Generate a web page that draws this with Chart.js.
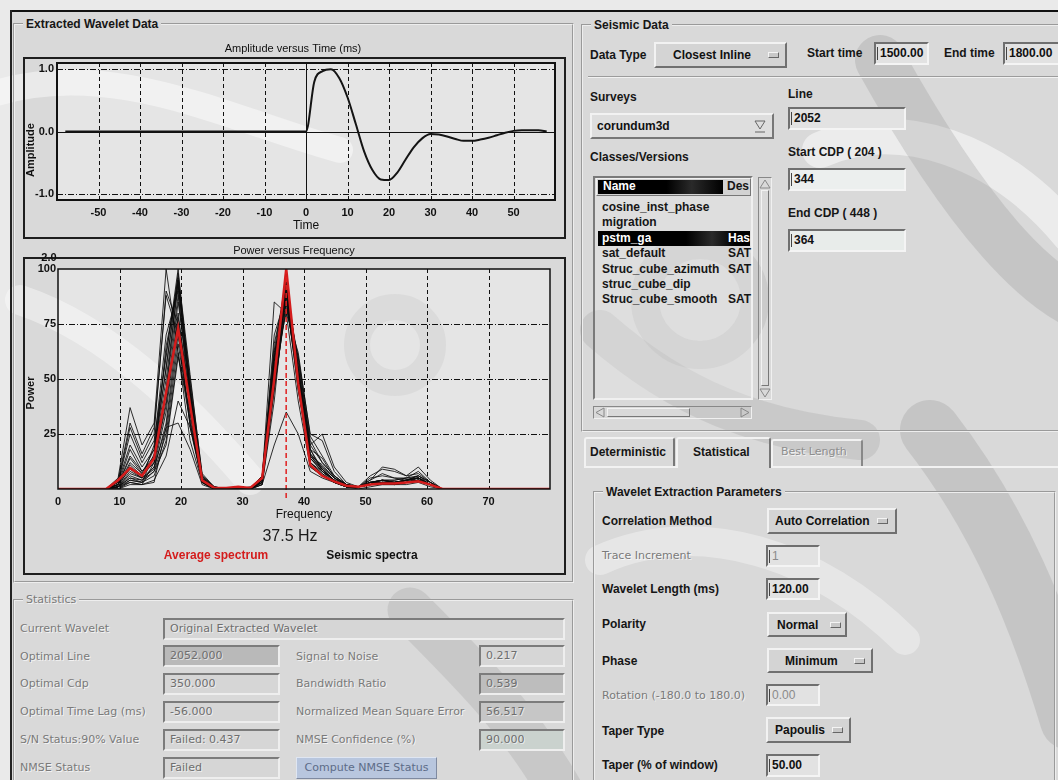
<!DOCTYPE html>
<html>
<head>
<meta charset="utf-8">
<title>Extracted Wavelet Data</title>
<script src="https://cdn.jsdelivr.net/npm/chart.js@4.4.1/dist/chart.umd.min.js"></script>
<style>
  html, body { margin: 0; padding: 0; }
  body {
    width: 1058px; height: 780px; overflow: hidden; position: relative;
    background: #d9d9d9;
    font-family: "Liberation Sans", Arial, sans-serif;
    color: #111;
  }
  #wm { position: absolute; left: 0; top: 0; z-index: 0; }
  .a { position: absolute; z-index: 1; }
  .lbl { position: absolute; z-index: 1; font: bold 12px "Liberation Sans", Arial, sans-serif; line-height: 14px; white-space: nowrap; color: #161616; }
  .dis { position: absolute; z-index: 1; font: 11px "DejaVu Sans", sans-serif; line-height: 14px; white-space: nowrap; color: #7a7a7a; text-shadow: 1px 1px 0 rgba(255,255,255,0.7); }
  .tf { position: absolute; z-index: 1; box-sizing: border-box; height: 23px; background: #e2e2e2; border: 2px solid; border-color: #6f6f6f #f4f4f4 #f4f4f4 #6f6f6f; font: bold 12px "Liberation Sans", Arial, sans-serif; line-height: 19px; padding-left: 4px; white-space: nowrap; overflow: hidden; }
  .tf::before { content: ''; position: absolute; left: 1px; top: 3px; width: 1px; height: 13px; background: #444; }
  .tf.off { color: #8a8a8a; font-weight: normal; }
  .mb { position: absolute; z-index: 1; box-sizing: border-box; background: #d4d4d4; border: 2px solid; border-color: #f2f2f2 #707070 #707070 #f2f2f2; font: bold 12px "Liberation Sans", Arial, sans-serif; white-space: nowrap; }
  .mb span { position: absolute; top: 50%; transform: translateY(-50%); }
  .mb i { position: absolute; top: 50%; margin-top: -3px; width: 11px; height: 6px; box-sizing: border-box; border: 1px solid; border-color: #f4f4f4 #666 #666 #f4f4f4; background: #c8c8c8; }
  fieldset { position: absolute; z-index: 1; margin: 0; padding: 0; box-sizing: border-box; border: 2px groove #eeeeee; }
  legend { font: bold 12px "Liberation Sans", Arial, sans-serif; padding: 0 3px; margin-left: 8px; line-height: 14px; color: #161616; }
  legend.off { font: 11px "DejaVu Sans", sans-serif; color: #7a7a7a; text-shadow: 1px 1px 0 rgba(255,255,255,0.7); }
  .sbox { position: absolute; z-index: 1; box-sizing: border-box; height: 22px; border: 2px solid; border-color: #7c7c7c #eeeeee #eeeeee #7c7c7c; background: #d6d6d6; font: 11px "DejaVu Sans", sans-serif; color: #6e6e6e; line-height: 18px; padding-left: 5px; white-space: nowrap; text-shadow: 1px 1px 0 rgba(255,255,255,0.6); }
  .item { position: absolute; z-index: 2; font: bold 12px "Liberation Sans", Arial, sans-serif; line-height: 15px; white-space: nowrap; color: #161616; }
  canvas { position: absolute; z-index: 1; }
</style>
</head>
<body>

<!-- faint watermark swirls behind the window -->
<svg id="wm" width="1058" height="780">
  <g fill="none" stroke-linecap="round">
    <path d="M -10 95 C 110 55 230 120 340 150" stroke="#ffffff" stroke-opacity="0.45" stroke-width="26"/>
    <path d="M 20 300 C 110 330 190 410 250 480" stroke="#ffffff" stroke-opacity="0.4" stroke-width="30"/>
    <path d="M 820 150 C 900 115 1000 150 1070 235" stroke="#ffffff" stroke-opacity="0.5" stroke-width="36"/>
    <path d="M 600 560 C 700 515 820 555 905 640" stroke="#ffffff" stroke-opacity="0.35" stroke-width="30"/>
    <path d="M 880 60 C 930 150 1000 260 1070 300" stroke="#8c8c8c" stroke-opacity="0.25" stroke-width="50"/>
    <path d="M 930 430 C 1000 520 1040 620 1070 720" stroke="#8c8c8c" stroke-opacity="0.25" stroke-width="60"/>
    <path d="M 410 610 C 470 670 520 720 560 790" stroke="#8c8c8c" stroke-opacity="0.22" stroke-width="45"/>
    <path d="M 600 330 C 680 400 760 430 860 440" stroke="#8c8c8c" stroke-opacity="0.2" stroke-width="40"/>
    <circle cx="395" cy="345" r="38" stroke="#8c8c8c" stroke-opacity="0.18" stroke-width="26"/>
    <circle cx="700" cy="300" r="55" stroke="#8c8c8c" stroke-opacity="0.18" stroke-width="28"/>
  </g>
</svg>

<!-- window edges -->
<div class="a" style="left:0;top:0;width:1058px;height:10px;background:rgba(255,255,255,0.45)"></div>
<div class="a" style="left:0;top:10px;width:10px;height:770px;background:rgba(255,255,255,0.45)"></div>
<div class="a" style="left:10px;top:10px;width:1048px;height:2px;background:#111"></div>
<div class="a" style="left:10px;top:10px;width:2px;height:770px;background:#222"></div>

<!-- ===== left panel ===== -->
<fieldset style="left:13px;top:17px;width:561px;height:566px"><legend>Extracted Wavelet Data</legend></fieldset>

<canvas id="waveChart" width="550" height="202" style="left:20px;top:40px;width:550px;height:202px"></canvas>
<canvas id="specChart" width="550" height="340" style="left:20px;top:240px;width:550px;height:340px"></canvas>

<fieldset style="left:13px;top:593px;width:561px;height:200px"><legend class="off">Statistics</legend></fieldset>

<div class="dis" style="left:20px;top:622px">Current Wavelet</div>
<div class="sbox" style="left:163px;top:618px;width:402px">Original Extracted Wavelet</div>

<div class="dis" style="left:20px;top:650px">Optimal Line</div>
<div class="sbox" style="left:163px;top:645px;width:117px;background:#b9b9b9">2052.000</div>
<div class="dis" style="left:296px;top:650px">Signal to Noise</div>
<div class="sbox" style="left:479px;top:645px;width:86px">0.217</div>

<div class="dis" style="left:20px;top:677px">Optimal Cdp</div>
<div class="sbox" style="left:163px;top:673px;width:117px">350.000</div>
<div class="dis" style="left:296px;top:677px">Bandwidth Ratio</div>
<div class="sbox" style="left:479px;top:673px;width:86px;background:#bdbdbd">0.539</div>

<div class="dis" style="left:20px;top:705px">Optimal Time Lag (ms)</div>
<div class="sbox" style="left:163px;top:701px;width:117px">-56.000</div>
<div class="dis" style="left:296px;top:705px">Normalized Mean Square Error</div>
<div class="sbox" style="left:479px;top:701px;width:86px;background:#c6c6c6">56.517</div>

<div class="dis" style="left:20px;top:733px">S/N Status:90% Value</div>
<div class="sbox" style="left:163px;top:729px;width:117px">Failed: 0.437</div>
<div class="dis" style="left:296px;top:733px">NMSE Confidence (%)</div>
<div class="sbox" style="left:479px;top:729px;width:86px;background:#cad2ce">90.000</div>

<div class="dis" style="left:20px;top:761px">NMSE Status</div>
<div class="sbox" style="left:163px;top:757px;width:117px">Failed</div>
<div class="a" style="left:296px;top:757px;width:141px;height:22px;box-sizing:border-box;background:#b8c6de;border:1px solid;border-color:#dfe6f2 #7f8aa0 #7f8aa0 #dfe6f2;font:11px 'DejaVu Sans',sans-serif;color:#5d6c88;line-height:20px;text-align:center">Compute NMSE Status</div>

<!-- ===== right panel: Seismic Data ===== -->
<fieldset style="left:581px;top:18px;width:490px;height:414px"><legend>Seismic Data</legend></fieldset>

<div class="lbl" style="left:590px;top:48px">Data Type</div>
<div class="mb" style="left:654px;top:42px;width:133px;height:26px"><span style="left:17px">Closest Inline</span><i style="left:112px"></i></div>
<div class="lbl" style="left:807px;top:46px">Start time</div>
<div class="tf" style="left:874px;top:42px;width:55px">1500.00</div>
<div class="lbl" style="left:944px;top:46px">End time</div>
<div class="tf" style="left:1003px;top:42px;width:60px">1800.00</div>
<div class="a" style="left:588px;top:76px;width:470px;height:1px;background:#9c9c9c"></div>
<div class="a" style="left:588px;top:77px;width:470px;height:1px;background:#f2f2f2"></div>

<div class="lbl" style="left:590px;top:90px">Surveys</div>
<div class="a" style="left:590px;top:113px;width:184px;height:26px;box-sizing:border-box;background:#dedede;border:2px solid;border-color:#f2f2f2 #777 #777 #f2f2f2;font:bold 12px 'Liberation Sans',Arial,sans-serif;line-height:22px;padding-left:5px">corundum3d
  <svg style="position:absolute;right:5px;top:3px" width="14" height="16"><polygon points="2,3 12,3 7,11" fill="none" stroke="#666"/><line x1="2" y1="14" x2="12" y2="14" stroke="#666"/></svg>
</div>

<div class="lbl" style="left:590px;top:150px">Classes/Versions</div>
<div class="a" style="left:593px;top:176px;width:160px;height:224px;box-sizing:border-box;border:2px solid;border-color:#7a7a7a #f0f0f0 #f0f0f0 #7a7a7a;background:rgba(232,232,232,0.35)"></div>
<div class="a" style="left:596px;top:178px;width:155px;height:18px;box-sizing:border-box;border:1px solid;border-color:#f2f2f2 #777 #777 #f2f2f2;background:#d2d2d2"></div>
<div class="a" style="left:598px;top:180px;width:125px;height:14px;background:linear-gradient(90deg,#000 0%,#000 55%,#2a2a2a 75%,#000 100%)"></div>
<div class="item" style="left:603px;top:179px;color:#fff">Name</div>
<div class="item" style="left:727px;top:179px">Des</div>
<div class="a" style="left:598px;top:231px;width:152px;height:15px;background:linear-gradient(90deg,#000 0%,#000 58%,#2a2a2a 75%,#000 90%)"></div>
<div class="item" style="left:602px;top:200px">cosine_inst_phase</div>
<div class="item" style="left:602px;top:215px">migration</div>
<div class="item" style="left:602px;top:231px;color:#fff">pstm_ga</div>
<div class="item" style="left:728px;top:231px;color:#fff;width:22px;overflow:hidden">Has</div>
<div class="item" style="left:602px;top:246px">sat_default</div>
<div class="item" style="left:728px;top:246px">SAT</div>
<div class="item" style="left:602px;top:262px">Struc_cube_azimuth</div>
<div class="item" style="left:728px;top:262px">SAT</div>
<div class="item" style="left:602px;top:277px">struc_cube_dip</div>
<div class="item" style="left:602px;top:292px">Struc_cube_smooth</div>
<div class="item" style="left:728px;top:292px">SAT</div>

<div class="a" style="left:758px;top:177px;width:14px;height:223px;box-sizing:border-box;border:1px solid;border-color:#888 #f0f0f0 #f0f0f0 #888"></div>
<div class="a" style="left:761px;top:190px;width:8px;height:196px;box-sizing:border-box;border:1px solid;border-color:#f2f2f2 #777 #777 #f2f2f2"></div>
<svg class="a" style="left:758px;top:178px" width="14" height="12"><polygon points="7,2 12,10 2,10" fill="none" stroke="#888"/></svg>
<svg class="a" style="left:758px;top:387px" width="14" height="12"><polygon points="2,2 12,2 7,10" fill="none" stroke="#888"/></svg>
<div class="a" style="left:593px;top:406px;width:159px;height:13px;box-sizing:border-box;border:1px solid;border-color:#888 #f0f0f0 #f0f0f0 #888"></div>
<div class="a" style="left:607px;top:408px;width:83px;height:9px;box-sizing:border-box;border:1px solid;border-color:#f2f2f2 #777 #777 #f2f2f2"></div>
<svg class="a" style="left:594px;top:406px" width="12" height="13"><polygon points="2,6.5 10,2 10,11" fill="none" stroke="#888"/></svg>
<svg class="a" style="left:739px;top:406px" width="12" height="13"><polygon points="10,6.5 2,2 2,11" fill="none" stroke="#888"/></svg>

<div class="lbl" style="left:788px;top:87px">Line</div>
<div class="tf" style="left:788px;top:107px;width:118px">2052</div>
<div class="lbl" style="left:788px;top:145px">Start CDP ( 204 )</div>
<div class="tf" style="left:788px;top:168px;width:118px;background:#ecefee">344</div>
<div class="lbl" style="left:788px;top:206px">End CDP ( 448 )</div>
<div class="tf" style="left:788px;top:229px;width:118px;background:#e8ecea">364</div>

<!-- ===== right panel: tabs ===== -->
<div class="a" style="left:584px;top:437px;width:91px;height:29px;box-sizing:border-box;border:2px solid;border-bottom:none;border-color:#f2f2f2 #777 #777 #f2f2f2;border-radius:3px 3px 0 0"></div>
<div class="lbl" style="left:590px;top:445px">Deterministic</div>
<div class="a" style="left:676px;top:437px;width:95px;height:31px;box-sizing:border-box;border:2px solid;border-bottom:none;border-color:#f2f2f2 #777 #777 #f2f2f2;border-radius:3px 3px 0 0"></div>
<div class="lbl" style="left:693px;top:445px">Statistical</div>
<div class="a" style="left:771px;top:439px;width:92px;height:27px;box-sizing:border-box;border:2px solid;border-bottom:none;border-color:#f2f2f2 #888 #888 #f2f2f2;border-radius:3px 3px 0 0"></div>
<div class="lbl" style="left:781px;top:445px;color:#8e8e8e;font-weight:normal;font-family:'DejaVu Sans',sans-serif;font-size:11px;text-shadow:1px 1px 0 rgba(255,255,255,0.7)">Best Length</div>
<div class="a" style="left:584px;top:466px;width:92px;height:2px;background:#f2f2f2"></div>
<div class="a" style="left:771px;top:466px;width:287px;height:2px;background:#f2f2f2"></div>

<fieldset style="left:593px;top:485px;width:463px;height:310px"><legend>Wavelet Extraction Parameters</legend></fieldset>

<div class="lbl" style="left:602px;top:514px">Correlation Method</div>
<div class="mb" style="left:767px;top:508px;width:130px;height:26px"><span style="left:6px">Auto Correlation</span><i style="left:108px"></i></div>

<div class="dis" style="left:602px;top:549px">Trace Increment</div>
<div class="tf off" style="left:766px;top:545px;width:54px;height:22px">1</div>

<div class="lbl" style="left:602px;top:582px">Wavelet Length (ms)</div>
<div class="tf" style="left:766px;top:578px;width:54px;height:22px">120.00</div>

<div class="lbl" style="left:602px;top:617px">Polarity</div>
<div class="mb" style="left:767px;top:612px;width:80px;height:25px"><span style="left:8px">Normal</span><i style="left:61px"></i></div>

<div class="lbl" style="left:602px;top:654px">Phase</div>
<div class="mb" style="left:767px;top:648px;width:106px;height:25px"><span style="left:16px">Minimum</span><i style="left:85px"></i></div>

<div class="dis" style="left:602px;top:689px">Rotation (-180.0 to 180.0)</div>
<div class="tf off" style="left:766px;top:684px;width:54px;height:22px">0.00</div>

<div class="lbl" style="left:602px;top:724px">Taper Type</div>
<div class="mb" style="left:766px;top:717px;width:85px;height:26px"><span style="left:7px">Papoulis</span><i style="left:64px"></i></div>

<div class="lbl" style="left:602px;top:758px">Taper (% of window)</div>
<div class="tf" style="left:766px;top:754px;width:54px;height:23px">50.00</div>

<script>
// ---- Amplitude versus Time (ms) ----
const waveTime = [-58, 0, 2, 4, 6, 8, 10, 12, 14, 16, 18, 20, 22, 24, 26, 28, 30,
                  32, 34, 36, 38, 40, 42, 44, 46, 48, 50, 52, 54, 56, 58];
const waveAmp  = [0, 0, 0.80, 0.97, 1.0, 0.86, 0.55, 0.12, -0.32, -0.62, -0.77, -0.78, -0.66, -0.45, -0.25, -0.11, -0.04,
                  -0.05, -0.08, -0.12, -0.15, -0.15, -0.13, -0.10, -0.06, -0.02, 0.01, 0.02, 0.02, 0.02, 0.0];
const timeTicks = [-50, -40, -30, -20, -10, 0, 10, 20, 30, 40, 50];
const ampTicks = [-1, 0, 1];

// ---- Power versus Frequency ----
const freqHz = [0, 7.81, 9.77, 11.72, 13.67, 15.63, 17.58, 19.53, 21.48, 23.44, 25.39, 27.34, 29.30, 31.25, 33.20,
                35.16, 37.11, 39.06, 41.02, 42.97, 44.92, 46.88, 48.83, 50.78, 52.73, 54.69, 56.64, 58.59, 60.55, 62.50, 80];
const avgSpectrum = [0, 0, 4, 9.5, 6, 14, 44, 73, 38, 4, 0.5, 0.5, 1, 0.5, 5,
                     50, 100, 48, 11, 6, 3.5, 1.5, 1, 2, 2.5, 2.5, 3, 3.5, 2, 0, 0];

// seismic spectra (one per trace)
const trc01 = [0, 0, 5, 37, 20, 30, 100, 62, 22, 3, 0, 0, 0, 0, 2, 45, 85, 50, 14, 8, 4, 1, 1, 2, 3, 3, 4, 5, 2, 0, 0];
const trc02 = [0, 0, 4, 30, 16, 28, 88, 70, 30, 4, 0, 0, 0, 0, 3, 55, 90, 52, 16, 10, 5, 2, 1, 3, 4, 3, 4, 6, 3, 0, 0];
const trc03 = [0, 0, 3, 25, 12, 22, 60, 100, 45, 5, 0, 0, 1, 0, 4, 60, 95, 55, 20, 12, 6, 2, 1, 2, 3, 3, 3, 4, 2, 0, 0];
const trc04 = [0, 0, 3, 20, 10, 18, 55, 95, 40, 4, 0, 0, 0, 0, 5, 50, 88, 60, 25, 22, 8, 2, 1, 6, 9, 8, 6, 7, 3, 0, 0];
const trc05 = [0, 0, 2, 18, 8, 15, 50, 92, 48, 5, 1, 0, 0, 0, 4, 58, 92, 48, 14, 9, 4, 1, 1, 4, 10, 9, 6, 10, 4, 0, 0];
const trc06 = [0, 0, 2, 15, 8, 14, 45, 88, 42, 6, 1, 0, 0, 0, 6, 62, 85, 50, 12, 7, 3, 1, 1, 2, 3, 2, 4, 5, 2, 0, 0];
const trc07 = [0, 0, 2, 12, 7, 12, 40, 85, 45, 4, 0, 0, 0, 1, 3, 48, 90, 55, 18, 14, 5, 2, 1, 3, 4, 3, 3, 4, 2, 0, 0];
const trc08 = [0, 0, 1, 10, 6, 12, 38, 80, 38, 3, 0, 0, 0, 0, 5, 85, 80, 40, 10, 6, 3, 1, 1, 2, 4, 4, 5, 6, 3, 0, 0];
const trc09 = [0, 0, 1, 8, 5, 10, 35, 78, 40, 5, 0, 0, 0, 0, 4, 52, 90, 58, 22, 12, 6, 2, 1, 3, 3, 2, 3, 5, 2, 0, 0];
const trc10 = [0, 0, 1, 7, 5, 9, 30, 75, 35, 4, 0, 0, 1, 0, 3, 50, 88, 45, 15, 9, 4, 2, 1, 5, 6, 5, 4, 4, 2, 0, 0];
const trc11 = [0, 0, 1, 6, 4, 10, 28, 70, 38, 6, 1, 0, 0, 0, 3, 45, 85, 52, 12, 8, 3, 1, 1, 2, 3, 3, 4, 5, 2, 0, 0];
const trc12 = [0, 0, 1, 5, 4, 8, 25, 66, 32, 3, 0, 0, 0, 0, 6, 55, 93, 50, 16, 10, 5, 1, 1, 3, 4, 3, 3, 4, 2, 0, 0];
const trc13 = [0, 0, 1, 5, 3, 6, 22, 62, 30, 3, 0, 0, 0, 0, 4, 48, 82, 60, 20, 25, 10, 3, 1, 2, 3, 3, 4, 5, 2, 0, 0];
const trc14 = [0, 0, 0, 4, 3, 8, 20, 60, 35, 4, 0, 0, 0, 0, 3, 52, 90, 47, 10, 6, 3, 1, 1, 3, 4, 4, 5, 5, 2, 0, 0];
const trc15 = [0, 0, 0, 3, 2, 3, 28, 30, 18, 2, 0, 0, 0, 0, 2, 20, 35, 25, 8, 5, 3, 1, 0, 1, 2, 2, 2, 3, 1, 0, 0];
const trc16 = [0, 0, 0, 2, 2, 12, 45, 95, 50, 7, 1, 0, 0, 0, 5, 58, 92, 54, 18, 8, 4, 1, 1, 2, 2, 2, 3, 4, 2, 0, 0];
const trc17 = [0, 0, 1, 4, 3, 16, 55, 98, 52, 6, 0, 0, 0, 0, 4, 60, 94, 50, 15, 11, 5, 2, 1, 3, 3, 3, 4, 5, 2, 0, 0];
const trc18 = [0, 0, 2, 9, 5, 20, 70, 90, 35, 3, 0, 0, 0, 0, 3, 55, 80, 62, 24, 15, 6, 2, 1, 4, 7, 5, 5, 8, 3, 0, 0];
const trc19 = [0, 0, 1, 3, 2, 4, 15, 40, 28, 5, 0, 0, 0, 0, 2, 40, 92, 56, 18, 9, 4, 1, 1, 2, 3, 3, 3, 4, 2, 0, 0];
const trc20 = [0, 0, 2, 11, 6, 14, 65, 93, 44, 4, 0, 0, 0, 0, 6, 66, 91, 52, 14, 8, 4, 1, 1, 3, 3, 2, 3, 4, 2, 0, 0];
const trc21 = [0, 0, 3, 28, 14, 25, 90, 75, 28, 3, 0, 0, 0, 0, 4, 70, 88, 45, 12, 7, 3, 1, 1, 2, 3, 3, 3, 4, 2, 0, 0];
const trc22 = [0, 0, 2, 14, 7, 18, 62, 96, 46, 5, 0, 0, 0, 0, 5, 63, 96, 53, 15, 9, 4, 1, 1, 3, 4, 3, 4, 6, 2, 0, 0];
const seismicSpectra = [trc01, trc02, trc03, trc04, trc05, trc06, trc07, trc08, trc09, trc10, trc11,
                        trc12, trc13, trc14, trc15, trc16, trc17, trc18, trc19, trc20, trc21, trc22];
const freqTicks = [0, 10, 20, 30, 40, 50, 60, 70];
const powerTicks = [25, 50, 75, 100];
const peakFreq = 37.1;
const peakLabel = '37.5 Hz';

const FONT = '"Liberation Sans", Arial, sans-serif';

// gambar bingkai, grid putus-putus dan teks tambahan panel grafik
const panelDecor = {
    id: 'panelDecor',
    beforeDraw(chart, args, o) {
        const { ctx, chartArea: a } = chart;
        ctx.save();
        ctx.fillStyle = 'rgba(255,255,255,0.32)';
        ctx.fillRect(a.left, a.top, a.right - a.left, a.bottom - a.top);
        ctx.strokeStyle = '#1e1e1e';
        ctx.lineWidth = 2;
        ctx.strokeRect(o.frame[0], o.frame[1], o.frame[2], o.frame[3]);
        ctx.restore();
    },
    beforeDatasetsDraw(chart, args, o) {
        const { ctx, chartArea: a, scales } = chart;
        ctx.save();
        ctx.strokeStyle = '#111';
        o.xLines.forEach(l => {
            const px = Math.round(scales.x.getPixelForValue(l.v)) + 0.5;
            ctx.lineWidth = l.w;
            ctx.setLineDash(l.dash);
            ctx.beginPath(); ctx.moveTo(px, a.top); ctx.lineTo(px, a.bottom); ctx.stroke();
        });
        o.yLines.forEach(l => {
            const py = Math.round(scales.y.getPixelForValue(l.v)) + 0.5;
            ctx.lineWidth = l.w;
            ctx.setLineDash(l.dash);
            ctx.beginPath(); ctx.moveTo(a.left, py); ctx.lineTo(a.right, py); ctx.stroke();
        });
        ctx.restore();
    },
    afterDatasetsDraw(chart, args, o) {
        const { ctx, chartArea: a, scales } = chart;
        ctx.save();
        if (o.marker) {
            const px = scales.x.getPixelForValue(o.marker.v);
            ctx.strokeStyle = o.marker.color;
            ctx.lineWidth = 1.5;
            ctx.setLineDash([5, 3]);
            ctx.beginPath(); ctx.moveTo(px, a.top); ctx.lineTo(px, a.bottom + o.marker.below); ctx.stroke();
            ctx.setLineDash([]);
        }
        ctx.strokeStyle = '#111';
        ctx.lineWidth = o.border;
        ctx.strokeRect(a.left, a.top, a.right - a.left, a.bottom - a.top);
        ctx.restore();
    },
    afterDraw(chart, args, o) {
        const ctx = chart.ctx;
        ctx.save();
        ctx.textAlign = 'center';
        ctx.textBaseline = 'middle';
        o.texts.forEach(t => {
            ctx.save();
            ctx.font = t.font;
            ctx.fillStyle = t.color || '#111';
            ctx.translate(t.x, t.y);
            if (t.rot) ctx.rotate(-Math.PI / 2);
            ctx.fillText(t.text, 0, 0);
            ctx.restore();
        });
        ctx.restore();
    }
};

function fixedTicks(list) {
    return function(scale) { scale.ticks = list.map(v => ({ value: v })); };
}

function renderWaveChart() {
    const ctx = document.getElementById('waveChart');
    new Chart(ctx, {
        type: 'line',
        data: {
            datasets: [{
                label: 'Amplitude',
                data: waveTime.map((t, i) => ({ x: t, y: waveAmp[i] })),
                borderColor: '#141414',
                borderWidth: 2,
                pointRadius: 0,
                cubicInterpolationMode: 'monotone',
                fill: false
            }]
        },
        options: {
            responsive: false,
            animation: false,
            layout: { padding: { left: 0, top: 23, right: 15, bottom: 0 } },
            plugins: {
                legend: { display: false },
                tooltip: { enabled: false },
                panelDecor: {
                    frame: [4, 18, 541, 180],
                    border: 2,
                    xLines: timeTicks.map(v => ({ v: v, w: 1, dash: v === 0 ? [] : [4, 3] })),
                    yLines: ampTicks.map(v => ({ v: v, w: v === 0 ? 1.2 : 1, dash: v === 0 ? [] : [6, 2, 1, 2] })),
                    texts: [
                        { text: 'Amplitude versus Time (ms)', x: 273, y: 9, font: '11px ' + FONT },
                        { text: 'Amplitude', x: 11, y: 110, rot: true, font: 'bold 11px ' + FONT },
                        { text: 'Time', x: 286, y: 186, font: '12px ' + FONT }
                    ]
                }
            },
            scales: {
                x: {
                    type: 'linear', min: -60, max: 60,
                    afterBuildTicks: fixedTicks(timeTicks),
                    afterFit: s => { s.height = 42; },
                    grid: { display: false, drawTicks: false },
                    border: { display: false },
                    ticks: { padding: 6, color: '#111', autoSkip: false, maxRotation: 0, font: { family: FONT, size: 11, weight: 'bold' } }
                },
                y: {
                    type: 'linear', min: -1.1, max: 1.1,
                    afterBuildTicks: fixedTicks(ampTicks),
                    afterFit: s => { s.width = 37; },
                    grid: { display: false, drawTicks: false },
                    border: { display: false },
                    ticks: { padding: 3, color: '#111', font: { family: FONT, size: 11, weight: 'bold' }, callback: v => v.toFixed(1) }
                }
            }
        },
        plugins: [panelDecor]
    });
}

function renderSpectrumChart() {
    const ctx = document.getElementById('specChart');
    const toPts = arr => freqHz.map((f, i) => ({ x: f, y: arr[i] }));
    const datasets = [{
        label: 'Average spectrum',
        data: toPts(avgSpectrum),
        borderColor: '#d41c1c',
        borderWidth: 2.5,
        pointRadius: 0,
        tension: 0,
        order: 0
    }];
    seismicSpectra.forEach(s => {
        datasets.push({
            label: 'Seismic spectra',
            data: toPts(s),
            borderColor: 'rgba(10,10,10,0.85)',
            borderWidth: 1,
            pointRadius: 0,
            tension: 0,
            order: 1
        });
    });

    new Chart(ctx, {
        type: 'line',
        data: { datasets: datasets },
        options: {
            responsive: false,
            animation: false,
            layout: { padding: { left: 0, top: 29, right: 20, bottom: 0 } },
            plugins: {
                legend: { display: false },
                tooltip: { enabled: false },
                panelDecor: {
                    frame: [4, 18, 541, 316],
                    border: 1.5,
                    xLines: freqTicks.filter(v => v > 0).map(v => ({ v: v, w: 1, dash: [4, 3] })),
                    yLines: powerTicks.filter(v => v < 100).map(v => ({ v: v, w: 1, dash: [6, 2, 1, 2] })),
                    marker: { v: peakFreq, color: '#e02020', below: 9 },
                    texts: [
                        { text: 'Power versus Frequency', x: 274, y: 11, font: '11px ' + FONT },
                        { text: '2.0', x: 29, y: 18, font: 'bold 11px ' + FONT },
                        { text: 'Power', x: 11, y: 153, rot: true, font: 'bold 11px ' + FONT },
                        { text: 'Frequency', x: 284, y: 275, font: '12px ' + FONT },
                        { text: peakLabel, x: 270, y: 297, font: '16px ' + FONT, color: '#1a1a1a' },
                        { text: datasets[0].label, x: 196, y: 316, font: 'bold 12px ' + FONT, color: '#d41c1c' },
                        { text: datasets[1].label, x: 352, y: 316, font: 'bold 12px ' + FONT, color: '#111' }
                    ]
                }
            },
            scales: {
                x: {
                    type: 'linear', min: 0, max: 80,
                    afterBuildTicks: fixedTicks(freqTicks),
                    afterFit: s => { s.height = 91; },
                    grid: { display: false, drawTicks: false },
                    border: { display: false },
                    ticks: { padding: 6, color: '#111', autoSkip: false, maxRotation: 0, font: { family: FONT, size: 11, weight: 'bold' } }
                },
                y: {
                    type: 'linear', min: 0, max: 100,
                    afterBuildTicks: fixedTicks(powerTicks),
                    afterFit: s => { s.width = 38; },
                    grid: { display: false, drawTicks: false },
                    border: { display: false },
                    ticks: { padding: 2, color: '#111', font: { family: FONT, size: 11, weight: 'bold' } }
                }
            }
        },
        plugins: [panelDecor]
    });
}

renderWaveChart();
renderSpectrumChart();
</script>
</body>
</html>
